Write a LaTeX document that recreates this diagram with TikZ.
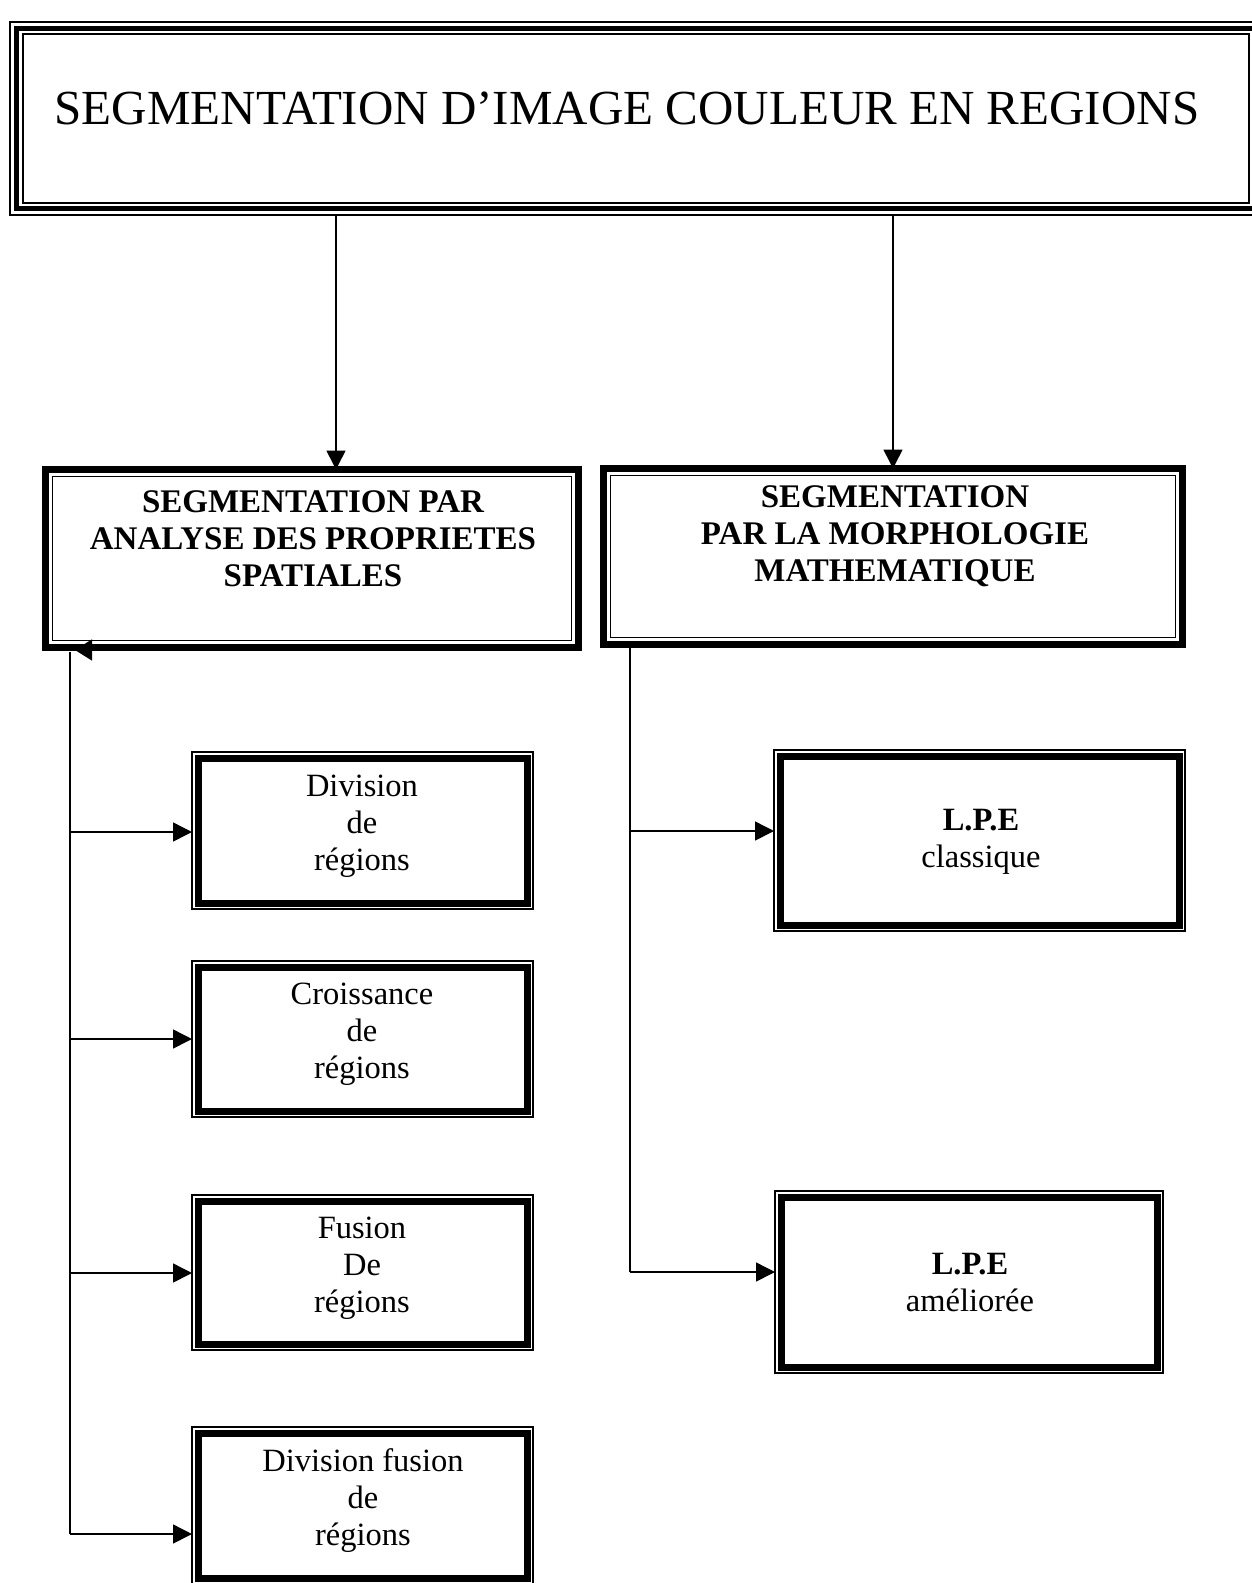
\documentclass[tikz,border=0pt]{standalone}
\usepackage{fontspec}
\setmainfont{Liberation Serif}
\usetikzlibrary{arrows.meta}
\begin{document}
\begin{tikzpicture}[x=1pt,y=-1pt,
  every node/.style={outer sep=0pt, inner sep=0pt},
  % title frame: thin, thick, thin
  titlebox/.style={draw, line width=1.5pt,
    path picture={
      \draw[line width=4.5pt] ([shift={(6.5pt,-6.5pt)}]path picture bounding box.north west) rectangle ([shift={(-6.5pt,6.5pt)}]path picture bounding box.south east);
      \draw[line width=1.5pt] ([shift={(13pt,-12pt)}]path picture bounding box.north west) rectangle ([shift={(-13pt,12pt)}]path picture bounding box.south east);}},
  % second level frame: thick outside, thin inside
  lvlbox/.style={draw, line width=7pt,
    path picture={
      \draw[line width=1.5pt] ([shift={(7pt,-7pt)}]path picture bounding box.north west) rectangle ([shift={(-7pt,7pt)}]path picture bounding box.south east);}},
  % leaf frame: thin outside, thick inside
  subbox/.style={draw, line width=1.5pt,
    path picture={
      \draw[line width=7pt] ([shift={(6pt,-6pt)}]path picture bounding box.north west) rectangle ([shift={(-6pt,6pt)}]path picture bounding box.south east);}},
  ttext/.style={font=\fontsize{49}{58}\selectfont},
  btext/.style={align=center, font=\fontsize{33}{37}\selectfont\bfseries},
  ntext/.style={align=center, font=\fontsize{32.5}{37}\selectfont},
  arr/.style={line width=1.5pt, -{Triangle[length=19pt,width=19pt]}},
  link/.style={line width=1.5pt}]

\useasboundingbox (0,0) rectangle (1251,1583);

% title
\node[titlebox, minimum width=1252pt, minimum height=193pt] (T) at (636,118.5) {};
\node[ttext] (Tt) at (627,108) {SEGMENTATION D’IMAGE COULEUR EN REGIONS};

% second level
\node[lvlbox, minimum width=533pt, minimum height=178pt] (A) at (312,558.5) {};
\node[btext] (At) at (313,539) {SEGMENTATION PAR\\ANALYSE DES PROPRIETES\\SPATIALES};
\node[lvlbox, minimum width=579pt, minimum height=176pt] (B) at (893,556.5) {};
\node[btext] (Bt) at (895,536) {SEGMENTATION\\PAR LA MORPHOLOGIE\\MATHEMATIQUE};

% leaves, left branch
\node[subbox, minimum width=341pt, minimum height=157pt] (d1) at (362.5,830.5) {};
\node[ntext] (d1t) at (362,826) {Division\\de\\régions};
\node[subbox, minimum width=341pt, minimum height=156pt] (d2) at (362.5,1039) {};
\node[ntext] (d2t) at (362,1034) {Croissance\\de\\régions};
\node[subbox, minimum width=341pt, minimum height=155pt] (d3) at (362.5,1272.5) {};
\node[ntext] (d3t) at (362,1268) {Fusion\\De\\régions};
\node[subbox, minimum width=341pt, minimum height=157pt] (d4) at (362.5,1505.5) {};
\node[ntext] (d4t) at (363,1501) {Division fusion\\de\\régions};

% leaves, right branch
\node[subbox, minimum width=411pt, minimum height=181pt] (c1) at (979.5,840.5) {};
\node[ntext] (c1t) at (981,842) {\textbf{L.P.E}\\classique};
\node[subbox, minimum width=388pt, minimum height=182pt] (c2) at (969,1282) {};
\node[ntext] (c2t) at (970,1283) {\textbf{L.P.E}\\améliorée};

% title to second level
\coordinate (xa) at (336,0);
\coordinate (xb) at (893,0);
\draw[arr] (xa |- T.south) -- (xa |- A.north);
\draw[arr] (xb |- T.south) -- (xb |- B.north);

% left trunk
\coordinate (lt) at (70,652);
\coordinate (lh) at (93,650);
\coordinate (lhe) at (75,650);
\draw[line width=1.5pt, -{Triangle[length=17pt,width=21pt]}] (lh) -- (lhe);
\coordinate (l1) at (70,832);
\coordinate (l2) at (70,1039);
\coordinate (l3) at (70,1273);
\coordinate (l4) at (70,1534);
\draw[link] (lt) -- (l4);
\draw[arr] (l1) -- (l1 -| d1.west);
\draw[arr] (l2) -- (l2 -| d2.west);
\draw[arr] (l3) -- (l3 -| d3.west);
\draw[arr] (l4) -- (l4 -| d4.west);

% right trunk
\coordinate (rt) at (630,648);
\coordinate (r1) at (630,831);
\coordinate (r2) at (630,1272);
\draw[link] (rt) -- (r2);
\draw[arr] (r1) -- (r1 -| c1.west);
\draw[arr] (r2) -- (r2 -| c2.west);
\end{tikzpicture}
\end{document}
